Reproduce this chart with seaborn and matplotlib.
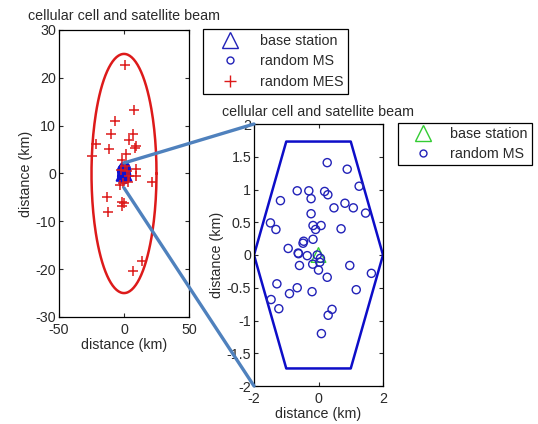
import numpy as np
import pandas as pd
import matplotlib
matplotlib.use("Agg")
import matplotlib.pyplot as plt
from matplotlib.lines import Line2D
from matplotlib.patches import ConnectionPatch
import seaborn as sns

# ---------------- data ----------------
title = "cellular cell and satellite beam"
xlabel = "distance (km)"
ylabel = "distance (km)"

beam_radius = 25.0      # satellite beam (km)
cell_radius = 2.0       # hexagonal cell (km)
base_station = (0.0, 0.0)

ms_x = [0.27, 0.89, 1.26, -0.66, -0.30, 0.19, 0.29, -0.23, -1.18, 0.82,
        1.08, 0.48, 1.46, -0.23, -1.49, -1.32, -0.17, 0.08, -0.09, 0.70,
        -0.17, -0.46, -0.48, -0.94, -0.63, -0.62, -0.35, -0.04, 0.06, 0.04,
        -0.18, -0.59, 0.97, 1.64, 0.00, 0.27, -1.29, -0.66, -0.90, -0.20,
        1.17, -1.47, -1.23, 0.42, 0.30, 0.09]
ms_y = [1.41, 1.31, 1.05, 0.98, 0.98, 0.97, 0.92, 0.86, 0.83, 0.79,
        0.72, 0.72, 0.64, 0.63, 0.49, 0.39, 0.45, 0.45, 0.39, 0.40,
        0.24, 0.21, 0.18, 0.10, 0.03, 0.02, -0.01, 0.00, -0.05, -0.11,
        -0.14, -0.16, -0.16, -0.28, -0.23, -0.34, -0.44, -0.50, -0.59, -0.56,
        -0.53, -0.68, -0.82, -0.83, -0.92, -1.20]

mes_x = [0.8, 7.7, -6.7, -10.0, 6.7, 4.1, 9.2, 8.2, -21.8, -24.6,
         -11.5, 1.5, -1.3, 21.3, 9.2, 9.2, 3.3, -3.0, -12.8, -12.0,
         -1.3, 0.0, -1.3, 13.8, 7.2, -2.5, 2.0, -0.5, 1.0, 4.0]
mes_y = [22.6, 13.3, 11.0, 8.3, 8.2, 7.1, 5.8, 5.4, 6.1, 3.7,
         5.1, 4.0, 2.9, -1.7, 1.0, -0.6, -1.7, -2.4, -5.0, -8.0,
         -5.9, -6.1, -6.8, -18.3, -20.3, 0.7, 0.5, -2.0, 1.5, -0.5]

left_xticks = [-50, 0, 50]
left_yticks = [-30, -20, -10, 0, 10, 20, 30]
right_xticks = [-2, 0, 2]
right_yticks = [-2, -1.5, -1, -0.5, 0, 0.5, 1, 1.5, 2]
right_yticklabels = ["-2", "-1.5", "-1", "-0.5", "0", "0.5", "1", "1.5", "2"]

ms_df = pd.DataFrame({"x": ms_x, "y": ms_y})
mes_df = pd.DataFrame({"x": mes_x, "y": mes_y})
bs_df = pd.DataFrame({"x": [base_station[0]], "y": [base_station[1]]})

# ---------------- style ----------------
sns.set_style("ticks")
plt.rcParams["font.family"] = ["Liberation Sans", "DejaVu Sans"]
plt.rcParams["font.size"] = 10.3
plt.rcParams["axes.unicode_minus"] = False
plt.rcParams["text.color"] = "#2a2a2a"
plt.rcParams["axes.labelcolor"] = "#2a2a2a"
plt.rcParams["xtick.color"] = "#2a2a2a"
plt.rcParams["ytick.color"] = "#2a2a2a"

BLUE_PTS = "#2222b8"
BLUE_HEX = "#0d0dc8"
RED = "#dd1a1a"
GREEN = "#33cc33"
LINK = "#4f81bd"

fig = plt.figure(figsize=(5.38, 4.24), dpi=100)
axL = fig.add_axes([59 / 538, 1 - 317 / 424, 130 / 538, 287 / 424])
axR = fig.add_axes([254 / 538, 1 - 386 / 424, 129 / 538, 262 / 424])

# ---------------- left: satellite beam ----------------
t = np.linspace(0, 2 * np.pi, 200)
axL.plot(beam_radius * np.cos(t), beam_radius * np.sin(t), color=RED, lw=1.8, zorder=2)
sns.scatterplot(data=bs_df, x="x", y="y", ax=axL, marker="^", s=110,
                facecolor="none", edgecolor="#1010d0", linewidth=1.5, legend=False, zorder=3)
sns.scatterplot(data=ms_df, x="x", y="y", ax=axL, marker="o", s=34,
                facecolor="none", edgecolor="#1010d0", linewidth=1.6, legend=False, zorder=3)
sns.scatterplot(data=mes_df, x="x", y="y", ax=axL, marker="+", s=55,
                color=RED, linewidth=1.1, legend=False, zorder=4)
axL.set_xlim(-50, 50)
axL.set_ylim(-30, 30)
axL.set_xticks(left_xticks)
axL.set_yticks(left_yticks)
axL.set_xlabel(xlabel, labelpad=1)
axL.set_ylabel(ylabel, labelpad=2)
axL.set_title(title, fontsize=10.3, pad=7)

# ---------------- right: hexagonal cell ----------------
ang = np.deg2rad(np.arange(0, 361, 60))
axR.plot(cell_radius * np.cos(ang), cell_radius * np.sin(ang), color=BLUE_HEX, lw=1.8, zorder=2)
sns.scatterplot(data=bs_df, x="x", y="y", ax=axR, marker="^", s=110,
                facecolor="none", edgecolor=GREEN, linewidth=1.0, legend=False, zorder=3)
sns.scatterplot(data=ms_df, x="x", y="y", ax=axR, marker="o", s=34,
                facecolor="none", edgecolor=BLUE_PTS, linewidth=1.0, legend=False, zorder=4)
axR.set_xlim(-2, 2)
axR.set_ylim(-2, 2)
axR.set_xticks(right_xticks)
axR.set_yticks(right_yticks)
axR.set_yticklabels(right_yticklabels)
axR.set_xlabel(xlabel, labelpad=1)
axR.set_ylabel(ylabel, labelpad=2)
axR.set_title(title, fontsize=10.3, pad=6)

for ax in (axL, axR):
    ax.tick_params(direction="in", top=True, right=True, length=3, width=0.8,
                   labelsize=10.3, pad=2)
    ax.tick_params(axis="x", pad=4)
    for sp in ax.spines.values():
        sp.set_visible(True)
        sp.set_linewidth(0.9)
        sp.set_color("black")

# ---------------- legends ----------------
hL = [Line2D([], [], ls="none", marker="^", ms=11, mfc="none", mec=BLUE_PTS, mew=1.0),
      Line2D([], [], ls="none", marker="o", ms=5, mfc="none", mec=BLUE_PTS, mew=1.0),
      Line2D([], [], ls="none", marker="+", ms=8, color=RED, mew=1.0)]
legL = fig.legend(hL, ["base station", "random MS", "random MES"],
                  loc="upper left", bbox_to_anchor=(203 / 538, 1 - 29 / 424),
                  borderaxespad=0, fancybox=False, edgecolor="black", framealpha=1,
                  fontsize=10.3, labelspacing=0.45, handletextpad=0.5,
                  borderpad=0.35, handlelength=3.1)
legL.get_frame().set_linewidth(0.9)

hR = [Line2D([], [], ls="none", marker="^", ms=11, mfc="none", mec=GREEN, mew=1.0),
      Line2D([], [], ls="none", marker="o", ms=5, mfc="none", mec=BLUE_PTS, mew=1.0)]
legR = fig.legend(hR, ["base station", "random MS"],
                  loc="upper left", bbox_to_anchor=(398 / 538, 1 - 123 / 424),
                  borderaxespad=0, fancybox=False, edgecolor="black", framealpha=1,
                  fontsize=10.3, labelspacing=0.4, handletextpad=0.45,
                  borderpad=0.3, handlelength=2.9)
legR.get_frame().set_linewidth(0.9)

# ---------------- zoom connectors ----------------
for (xa, ya), (xb, yb) in [((0, 2.2), (-2, 2)), ((0, -3.0), (-2, -2))]:
    con = ConnectionPatch(xyA=(xa, ya), coordsA=axL.transData,
                          xyB=(xb, yb), coordsB=axR.transData,
                          color=LINK, lw=2.4, zorder=10)
    fig.add_artist(con)

fig.savefig("out.png", dpi=100)
